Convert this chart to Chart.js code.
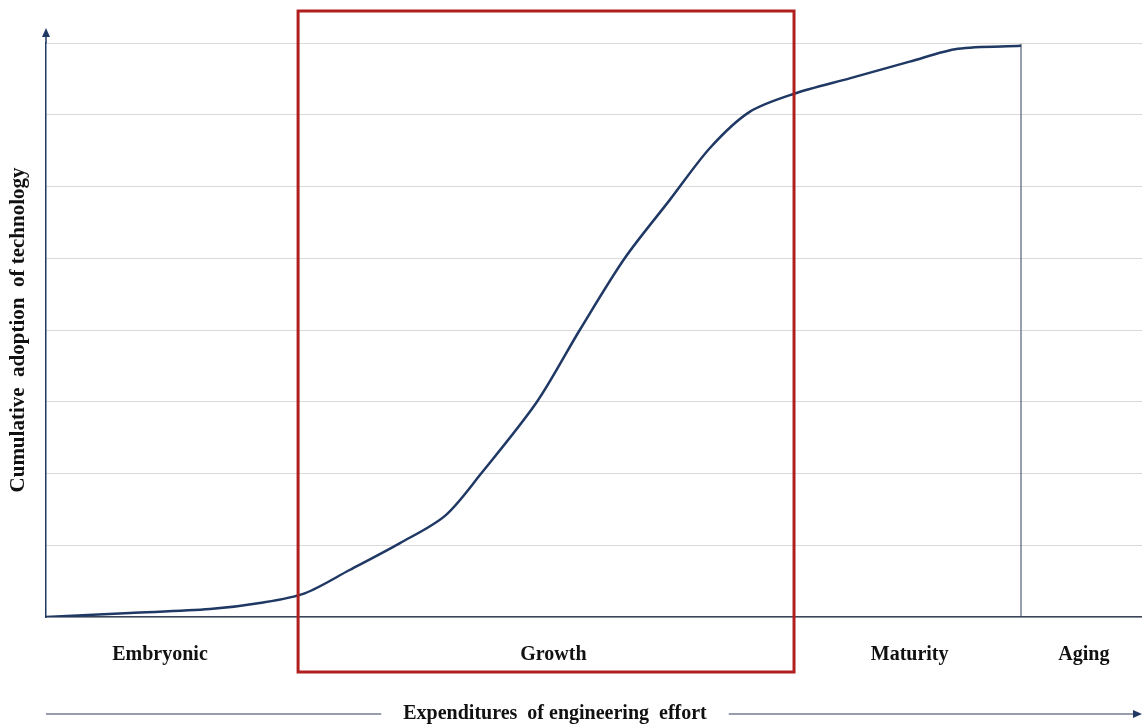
<!DOCTYPE html>
<html>
<head>
<meta charset="utf-8">
<script src="https://cdn.jsdelivr.net/npm/chart.js@4/dist/chart.umd.min.js"></script>
<style>
  html, body { margin: 0; padding: 0; background: #fff; }
  #wrap { width: 1142px; height: 726px; position: relative; }
</style>
</head>
<body>
<div id="wrap"><canvas id="sCurve"></canvas></div>
<script>
// S-curve: engineering effort (x) vs cumulative adoption (y)
const effort = [0, 7.66, 14.96, 19.5, 23.6, 27.7, 32.3, 36.4, 39.7, 44.8, 48.7, 52.8, 56.9, 60.6, 64.2, 68.2, 73.4, 78.8, 83.2, 88.96];
const adoption = [0, 0.056, 0.11, 0.195, 0.33, 0.655, 1.03, 1.41, 2.0, 3.0, 4.0, 5.0, 5.81, 6.54, 7.04, 7.29, 7.51, 7.74, 7.92, 7.96];

// lifecycle phases, label centres in effort units
const phaseNames = ['Embryonic', 'Growth', 'Maturity', 'Aging'];
const phaseCenters = [10.4, 46.3, 78.8, 94.7];
const growthRange = [23.0, 68.25];   // red box
const agingStart = 88.96;            // vertical divider

const navy = '#1f3864';
const serif = '"Liberation Serif", "Times New Roman", serif';

const points = effort.map((x, i) => ({ x: x, y: adoption[i] }));

const decorations = {
    id: 'decorations',
    afterDatasetsDraw(chart) {
        const ctx = chart.ctx;
        const xs = chart.scales.x, ys = chart.scales.y;
        const area = chart.chartArea;
        ctx.save();

        // y axis extension + arrow head
        ctx.strokeStyle = navy;
        ctx.fillStyle = navy;
        ctx.lineWidth = 1.5;
        ctx.beginPath();
        ctx.moveTo(area.left, area.top);
        ctx.lineTo(area.left, area.top - 9);
        ctx.stroke();
        ctx.beginPath();
        ctx.moveTo(area.left, area.top - 15);
        ctx.lineTo(area.left - 4, area.top - 6);
        ctx.lineTo(area.left + 4, area.top - 6);
        ctx.closePath();
        ctx.fill();

        // aging divider
        const ax = xs.getPixelForValue(agingStart);
        ctx.strokeStyle = '#2f3f5f';
        ctx.lineWidth = 1;
        ctx.beginPath();
        ctx.moveTo(ax, ys.getPixelForValue(adoption[adoption.length - 1]) - 2);
        ctx.lineTo(ax, area.bottom);
        ctx.stroke();

        // growth box
        const gx0 = xs.getPixelForValue(growthRange[0]);
        const gx1 = xs.getPixelForValue(growthRange[1]);
        ctx.strokeStyle = '#b01e1e';
        ctx.lineWidth = 3;
        ctx.strokeRect(gx0, area.top - 32, gx1 - gx0, area.bottom - area.top + 87);

        // phase labels
        ctx.fillStyle = '#111';
        ctx.font = 'bold 20px ' + serif;
        ctx.textAlign = 'center';
        ctx.textBaseline = 'middle';
        phaseNames.forEach((name, i) => {
            ctx.fillText(name, xs.getPixelForValue(phaseCenters[i]), area.bottom + 38);
        });

        // bottom effort arrow with caption
        const by = area.bottom + 97;
        const caption = 'Expenditures  of engineering  effort';
        const cx = 555;
        const tw = ctx.measureText(caption).width;
        ctx.fillText(caption, cx, by);
        ctx.strokeStyle = '#2f3f5f';
        ctx.lineWidth = 1.2;
        ctx.beginPath();
        ctx.moveTo(area.left, by);
        ctx.lineTo(cx - tw / 2 - 22, by);
        ctx.moveTo(cx + tw / 2 + 22, by);
        ctx.lineTo(area.right - 6, by);
        ctx.stroke();
        ctx.fillStyle = navy;
        ctx.beginPath();
        ctx.moveTo(area.right, by);
        ctx.lineTo(area.right - 9, by - 4);
        ctx.lineTo(area.right - 9, by + 4);
        ctx.closePath();
        ctx.fill();

        ctx.restore();
    }
};

const chart = new Chart(document.getElementById('sCurve'), {
    type: 'line',
    data: {
        datasets: [{
            data: points,
            borderColor: navy,
            borderWidth: 2.5,
            pointRadius: 0,
            fill: false,
            tension: 0.3
        }]
    },
    options: {
        responsive: true,
        maintainAspectRatio: false,
        animation: false,
        layout: { padding: { top: 43, right: 0, bottom: 109, left: 0 } },
        plugins: { legend: { display: false }, tooltip: { enabled: false } },
        scales: {
            x: {
                type: 'linear',
                min: 0,
                max: 100,
                grid: { display: false, drawTicks: false },
                ticks: { display: false },
                border: { display: true, color: '#3b4658', width: 1.5 },
                afterFit: (s) => { s.height = 0; }
            },
            y: {
                min: 0,
                max: 8,
                ticks: { display: false, stepSize: 1 },
                grid: { color: '#d9d9d9', lineWidth: 1, drawTicks: false },
                border: { display: true, color: navy, width: 1.5 },
                title: {
                    display: true,
                    text: 'Cumulative  adoption  of technology',
                    color: '#111',
                    font: { family: serif, size: 21, weight: 'bold' },
                    padding: { top: 6, bottom: 0 }
                },
                afterFit: (s) => { s.width = 46; }
            }
        }
    },
    plugins: [decorations]
});
</script>
</body>
</html>
